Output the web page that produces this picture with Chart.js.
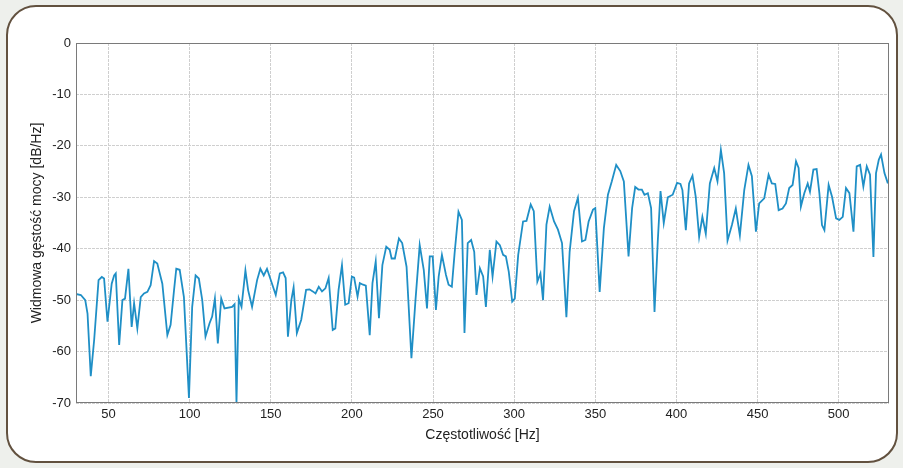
<!DOCTYPE html>
<html>
<head>
<meta charset="utf-8">
<script src="https://cdn.jsdelivr.net/npm/chart.js@4.4.1/dist/chart.umd.min.js"></script>
<style>
    html, body { margin: 0; padding: 0; background: #eef0ec; }
    #wrap { position: relative; width: 903px; height: 468px; overflow: hidden; }
    #frame {
        position: absolute; left: 6px; top: 5px; width: 888px; height: 454px;
        border: 2px solid #62513f; border-radius: 30px; background: #fff;
    }
    #psdChart { position: absolute; left: 0; top: 0; }
</style>
</head>
<body>
<div id="wrap">
    <div id="frame"></div>
    <canvas id="psdChart" width="903" height="468"></canvas>
</div>
<script>
// Power spectral density
const freqHz = [
    29.9, 33.0, 35.7, 37.1, 39.1, 41.2, 43.9, 45.9, 47.3, 49.4, 52.0, 53.5, 54.5, 56.6, 58.6, 60.2, 62.3, 64.3, 65.8, 67.8,
    69.9, 71.9, 74.0, 76.0, 78.1, 80.1, 83.2, 86.3, 88.3, 90.4, 91.8, 93.9, 96.5, 99.6, 101.6, 103.7, 105.7, 107.8, 109.8, 112.3,
    113.9, 115.6, 117.4, 119.5, 121.5, 126.2, 127.7, 128.9, 130.3, 132.0, 134.4, 136.1, 138.5, 141.6, 143.6, 145.7, 147.7, 150.8,
    153.1, 155.6, 157.6, 159.2, 160.6, 162.7, 164.1, 166.1, 168.8, 171.8, 173.9, 175.9, 177.6, 179.6, 181.6, 183.7, 185.7, 188.2, 189.8, 191.8,
    193.9, 195.9, 198.0, 200.0, 201.4, 203.5, 204.9, 206.9, 208.6, 211.0, 212.7, 214.7, 216.7, 218.8, 221.2, 223.3, 224.5, 226.5, 229.0, 231.0,
    233.7, 236.7, 239.2, 241.8, 244.3, 246.3, 248.0, 249.8, 251.8, 253.5, 255.5, 258.0, 259.6, 261.6, 263.3, 265.7, 267.8, 269.4, 271.4, 273.5,
    275.4, 276.8, 278.9, 280.9, 282.6, 285.0, 286.7, 289.1, 291.2, 293.2, 294.9, 296.7, 298.8, 300.4, 302.5, 305.5, 307.6, 310.2, 312.1, 314.3,
    316.2, 317.8, 319.9, 321.9, 324.6, 327.0, 329.5, 332.2, 334.2, 336.9, 339.3, 341.8, 343.9, 345.9, 348.6, 350.0, 352.7, 355.3, 357.8, 360.2,
    362.9, 365.4, 367.6, 370.5, 372.7, 374.6, 376.6, 378.7, 380.3, 382.4, 384.4, 386.5, 388.5, 390.2, 392.2, 394.7, 397.7, 400.4, 402.5,
    403.7, 405.8, 407.8, 409.9, 411.9, 414.0, 416.0, 418.1, 420.6, 423.3, 425.3, 427.4, 429.4, 431.5, 434.2, 436.6, 439.1, 441.8, 444.4, 446.5,
    449.0, 451.0, 454.1, 456.8, 458.8, 460.9, 463.0, 465.4, 467.5, 469.5, 471.6, 473.7, 475.3, 476.7, 478.8, 480.9, 482.3, 484.4, 486.4, 488.1,
    489.7, 491.2, 493.8, 495.9, 498.4, 500.4, 502.5, 504.5, 506.6, 509.1, 511.1, 513.2, 515.2, 517.3, 519.3, 521.4, 523.0, 524.7, 526.1, 528.2, 530.3
];
const psdDb = [
    -48.8, -49.0, -50.0, -52.6, -64.8, -57.7, -46.1, -45.5, -45.8, -54.2, -46.8, -45.2, -44.8, -58.7, -50.0, -49.7, -43.9, -55.2, -50.6, -55.5,
    -49.4, -48.7, -48.4, -47.1, -42.4, -42.9, -46.8, -56.8, -54.8, -48.1, -43.9, -44.1, -49.4, -69.0, -51.3, -45.2, -45.8, -50.0, -57.1, -54.5,
    -53.2, -49.7, -58.4, -49.7, -51.6, -51.3, -50.8, -70.0, -49.7, -51.3, -44.2, -48.1, -51.3, -46.1, -43.9, -45.2, -43.9, -46.8,
    -49.0, -44.8, -44.6, -45.7, -57.1, -50.0, -47.5, -56.4, -53.8, -48.0, -47.9, -48.3, -48.7, -47.4, -48.3, -47.7, -45.7, -55.8, -55.5, -48.0,
    -43.2, -50.9, -50.6, -45.4, -45.6, -49.3, -46.7, -47.0, -47.2, -56.8, -46.7, -42.5, -53.5, -43.2, -39.6, -40.2, -41.9, -41.9, -38.0, -38.9,
    -43.5, -61.3, -50.0, -39.3, -44.1, -51.6, -41.5, -41.5, -51.9, -45.4, -41.2, -45.1, -47.0, -47.4, -40.9, -32.8, -34.4, -56.4, -38.9, -38.3,
    -40.6, -49.0, -43.8, -45.4, -51.3, -40.2, -45.4, -38.6, -39.3, -41.2, -41.5, -44.5, -50.3, -49.7, -41.2, -34.7, -34.6, -31.4, -32.7, -46.4,
    -44.8, -50.0, -35.3, -31.8, -34.7, -36.3, -38.9, -53.3, -40.6, -32.7, -30.1, -38.6, -38.3, -34.7, -32.4, -32.1, -48.4, -36.0, -29.5, -26.9,
    -23.7, -24.9, -26.9, -41.5, -32.1, -28.0, -28.5, -28.5, -29.5, -29.2, -32.1, -52.3, -38.6, -28.8, -35.0, -30.0, -29.5, -27.2, -27.4,
    -28.6, -36.4, -27.3, -25.8, -29.9, -37.7, -33.8, -37.1, -27.3, -24.3, -26.9, -20.8, -25.3, -38.4, -35.4, -32.2, -37.4, -28.6, -23.7, -25.9,
    -36.7, -31.2, -30.2, -25.6, -27.3, -27.4, -32.5, -32.2, -31.2, -28.2, -27.6, -23.0, -24.3, -31.8, -29.2, -27.3, -28.9, -24.6, -24.5, -29.2,
    -35.4, -36.4, -27.6, -29.9, -34.1, -34.4, -33.8, -28.2, -29.2, -36.7, -24.0, -23.7, -27.9, -24.0, -25.6, -41.6, -25.3, -22.7, -21.7, -25.3, -27.3
];

const xTicks = [50, 100, 150, 200, 250, 300, 350, 400, 450, 500];
const yTicks = [-70, -60, -50, -40, -30, -20, -10, 0];
const xRange = [30, 531];
const yRange = [-70, 0];

const xTitle = 'Częstotliwość [Hz]';
const yTitle = 'Widmowa gęstość mocy [dB/Hz]';

// Box around the plot area (MATLAB style axes)
const axesBox = {
    id: 'axesBox',
    afterDraw(chart) {
        const { ctx, chartArea: a } = chart;
        ctx.save();
        ctx.strokeStyle = '#7a7a7a';
        ctx.lineWidth = 1;
        ctx.strokeRect(a.left + 0.5, a.top + 0.5, a.right - a.left - 1, a.bottom - a.top - 1);
        ctx.restore();
    }
};

const gridStyle = {
    color: '#cfcfcf',
    lineWidth: 1,
    drawTicks: false
};

new Chart(document.getElementById('psdChart'), {
    type: 'line',
    data: {
        datasets: [{
            data: freqHz.map((f, i) => ({ x: f, y: psdDb[i] })),
            borderColor: '#1f8fc6',
            borderWidth: 1.8,
            pointRadius: 0,
            tension: 0,
            fill: false
        }]
    },
    options: {
        responsive: false,
        animation: false,
        layout: { padding: { top: 43, right: 14, left: 0, bottom: 0 } },
        plugins: {
            legend: { display: false },
            tooltip: { enabled: false }
        },
        scales: {
            x: {
                type: 'linear',
                min: xRange[0],
                max: xRange[1],
                afterBuildTicks: scale => { scale.ticks = xTicks.map(v => ({ value: v })); },
                afterFit: scale => { scale.height = 65; },
                grid: { ...gridStyle },
                border: { display: false, dash: [3, 1] },
                ticks: {
                    padding: 4,
                    color: '#222',
                    font: { family: 'Liberation Sans, Arial, sans-serif', size: 13 }
                },
                title: {
                    display: true,
                    text: xTitle,
                    color: '#222',
                    font: { family: 'Liberation Sans, Arial, sans-serif', size: 14 },
                    padding: { top: 0, bottom: 24 }
                }
            },
            y: {
                min: yRange[0],
                max: yRange[1],
                afterBuildTicks: scale => { scale.ticks = yTicks.map(v => ({ value: v })); },
                afterFit: scale => { scale.width = 76; },
                grid: { ...gridStyle },
                border: { display: false, dash: [3, 1] },
                ticks: {
                    padding: 5,
                    color: '#222',
                    font: { family: 'Liberation Sans, Arial, sans-serif', size: 13 }
                },
                title: {
                    display: true,
                    text: yTitle,
                    color: '#222',
                    font: { family: 'Liberation Sans, Arial, sans-serif', size: 14 },
                    padding: { top: 29, bottom: 0 }
                }
            }
        }
    },
    plugins: [axesBox]
});
</script>
</body>
</html>
